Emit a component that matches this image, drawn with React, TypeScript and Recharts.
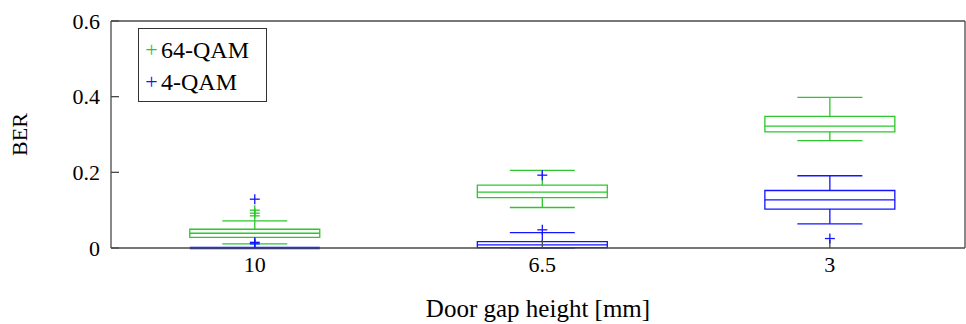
import { ComposedChart, XAxis, YAxis, Scatter, ReferenceArea, ReferenceLine } from 'recharts'

const categories = ['10', '6.5', '3']
const positions = [1, 2, 3]

// 64-QAM box stats per category
const qam64Min = [0.011, 0.107, 0.284]
const qam64Q1 = [0.028, 0.133, 0.307]
const qam64Median = [0.039, 0.1475, 0.322]
const qam64Q3 = [0.0495, 0.166, 0.348]
const qam64Max = [0.0715, 0.205, 0.398]
const qam64Outliers = [
  { x: 1, y: 0.1 },
  { x: 1, y: 0.092 },
  { x: 1, y: 0.085 },
]

// 4-QAM box stats per category
const qam4Min = [0, 0, 0.064]
const qam4Q1 = [0, 0.001, 0.103]
const qam4Median = [0, 0.008, 0.127]
const qam4Q3 = [0, 0.017, 0.152]
const qam4Max = [0, 0.0405, 0.191]
const qam4Outliers = [
  { x: 1, y: 0.129 },
  { x: 1, y: 0.015 },
  { x: 1, y: 0.011 },
  { x: 2, y: 0.1925 },
  { x: 2, y: 0.048 },
  { x: 3, y: 0.025 },
]

const yTicks = [0, 0.2, 0.4, 0.6]

const GREEN = '#2cc72c'
const BLUE = '#1414ff'
const AXIS = '#4a4a4a'
const FONT = '"Liberation Serif", "Times New Roman", serif'

const BOX_HALF = 0.226
const CAP_HALF = 0.113

function Plus(props: any) {
  const { cx, cy, fill } = props
  if (cx == null || cy == null) return null
  return (
    <g stroke={fill} strokeWidth={1.3}>
      <line x1={cx - 5} y1={cy} x2={cx + 5} y2={cy} />
      <line x1={cx} y1={cy - 5} x2={cx} y2={cy + 5} />
    </g>
  )
}

function boxes(
  key: string,
  color: string,
  min: number[],
  q1: number[],
  med: number[],
  q3: number[],
  max: number[]
) {
  const out: any[] = []
  positions.forEach((p, i) => {
    const lw = 1.3
    if (q3[i] > q1[i]) {
      out.push(
        <ReferenceArea key={`${key}-box-${i}`} x1={p - BOX_HALF} x2={p + BOX_HALF} y1={q1[i]} y2={q3[i]}
          fill="none" fillOpacity={0} stroke={color} strokeWidth={lw} strokeOpacity={1} />
      )
    }
    out.push(
      <ReferenceLine key={`${key}-med-${i}`} segment={[{ x: p - BOX_HALF, y: med[i] }, { x: p + BOX_HALF, y: med[i] }]}
        stroke={color} strokeWidth={q3[i] > q1[i] ? lw : 2.5} />
    )
    if (max[i] > q3[i]) {
      out.push(
        <ReferenceLine key={`${key}-uw-${i}`} segment={[{ x: p, y: q3[i] }, { x: p, y: max[i] }]} stroke={color} strokeWidth={lw} />,
        <ReferenceLine key={`${key}-uc-${i}`} segment={[{ x: p - CAP_HALF, y: max[i] }, { x: p + CAP_HALF, y: max[i] }]} stroke={color} strokeWidth={lw} />
      )
    }
    if (q1[i] > min[i]) {
      out.push(
        <ReferenceLine key={`${key}-lw-${i}`} segment={[{ x: p, y: min[i] }, { x: p, y: q1[i] }]} stroke={color} strokeWidth={lw} />,
        <ReferenceLine key={`${key}-lc-${i}`} segment={[{ x: p - CAP_HALF, y: min[i] }, { x: p + CAP_HALF, y: min[i] }]} stroke={color} strokeWidth={lw} />
      )
    }
  })
  return out
}

function LegendBox() {
  const row = (color: string, text: string) => (
    <div style={{ display: 'flex', alignItems: 'center', height: 32 }}>
      <span style={{ color, fontSize: 22, width: 19, textAlign: 'center' }}>+</span>
      <span style={{ fontSize: 24 }}>{text}</span>
    </div>
  )
  return (
    <div style={{ position: 'absolute', left: 138, top: 28, border: '1px solid #333', background: '#fff', width: 129, height: 74, padding: '5px 0 0 3px', boxSizing: 'border-box', fontFamily: FONT, color: '#000', lineHeight: 1 }}>
      {row(GREEN, '64-QAM')}
      {row(BLUE, '4-QAM')}
    </div>
  )
}

export default function App() {
  const tickStyle = { fontSize: 22, fill: '#000', fontFamily: FONT }
  return (
    <div style={{ position: 'absolute', left: 0, top: 0, width: 966, height: 324 }}>
      <ComposedChart width={966} height={324} margin={{ top: 0, right: 0, bottom: 0, left: 0 }}>
        <XAxis xAxisId={0} type="number" dataKey="x" domain={[0.5, 3.47]} allowDataOverflow ticks={positions}
          tickFormatter={(v: number) => categories[v - 1]} height={76} tickSize={-8} tickMargin={16}
          stroke={AXIS} strokeWidth={1.3} tick={tickStyle}
          label={{ value: 'Door gap height [mm]', position: 'insideBottom', offset: 7, style: { fontSize: 25, fill: '#000', fontFamily: FONT } }} />
        <XAxis xAxisId="top" orientation="top" type="number" domain={[0.5, 3.47]} allowDataOverflow ticks={positions}
          height={21} tickSize={-8} tick={false} stroke={AXIS} strokeWidth={1.3} />
        <YAxis yAxisId={0} type="number" domain={[0, 0.6]} allowDataOverflow ticks={yTicks} width={111}
          tickSize={-8} tickMargin={19} stroke={AXIS} strokeWidth={1.3} tick={tickStyle}
          label={{
            content: (props: any) => {
              const vb = props.viewBox || {}
              const cx = 22
              const cy = (vb.y ?? 21) + (vb.height ?? 227) / 2
              return (
                <text x={cx} y={cy} transform={`rotate(-90 ${cx} ${cy})`} textAnchor="middle" dominantBaseline="middle"
                  fontSize={22} fontFamily={FONT} fill="#000">BER</text>
              )
            },
          }} />
        <YAxis yAxisId="right" orientation="right" type="number" domain={[0, 0.6]} allowDataOverflow ticks={yTicks} width={1}
          tickSize={-8} tick={false} stroke={AXIS} strokeWidth={1.3} />
        {boxes('g', GREEN, qam64Min, qam64Q1, qam64Median, qam64Q3, qam64Max)}
        {boxes('b', BLUE, qam4Min, qam4Q1, qam4Median, qam4Q3, qam4Max)}
        <Scatter name="64-QAM" data={qam64Outliers} dataKey="y" fill={GREEN} shape={<Plus />} isAnimationActive={false} />
        <Scatter name="4-QAM" data={qam4Outliers} dataKey="y" fill={BLUE} shape={<Plus />} isAnimationActive={false} />
      </ComposedChart>
      <LegendBox />
    </div>
  )
}
